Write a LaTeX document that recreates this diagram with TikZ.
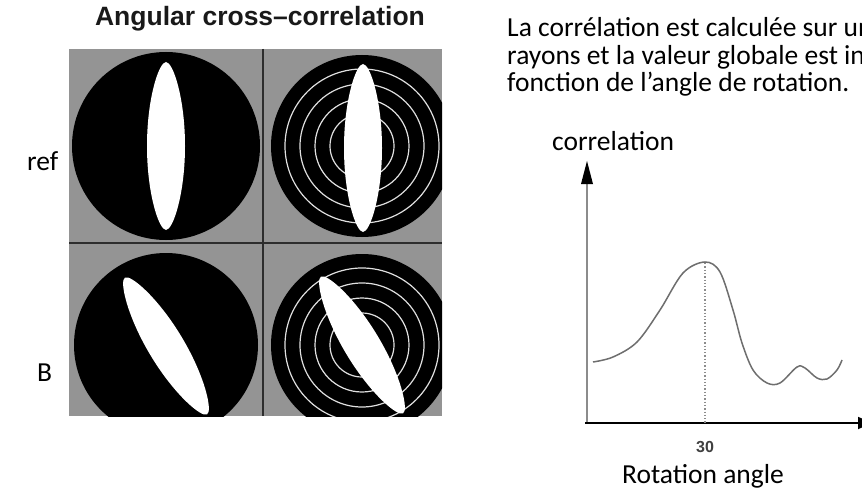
\documentclass[tikz,border=0pt]{standalone}
\usepackage{fontspec}
\setmainfont{Carlito}
\newfontfamily\titlefont{Liberation Sans}
\usetikzlibrary{arrows.meta}
\definecolor{panelgray}{RGB}{148,148,148}
\definecolor{divline}{RGB}{45,45,45}
\definecolor{axisgray}{RGB}{140,140,140}
\definecolor{curvegray}{RGB}{110,110,110}
\definecolor{titlecol}{RGB}{25,25,25}
\tikzset{
  lens/.pic={\fill[white] (0,-84) .. controls (7,-84) and (19,-48) .. (19,0) .. controls (19,48) and (7,84) .. (0,84) .. controls (-7,84) and (-19,48) .. (-19,0) .. controls (-19,-48) and (-7,-84) .. (0,-84) -- cycle;},
  disc/.style={fill=black},
  ringline/.style={draw=white!88!black, line width=1.2pt},
  divider/.style={draw=divline, line width=1.8pt},
  bodytext/.style={font=\fontsize{27.5}{29}\selectfont, inner sep=0pt, text=black},
}
\begin{document}
\begin{tikzpicture}[x=1pt,y=-1pt]
\useasboundingbox (0,0) rectangle (862,492);
\fill[white] (0,0) rectangle (862,492);
% title
\node[font=\titlefont\bfseries\fontsize{26.5}{28}\selectfont, text=titlecol, inner sep=0pt] (title) at (260,19) {Angular cross\textendash correlation};
% panel
\fill[panelgray] (69,49) rectangle (442,416);
\begin{scope}
\clip (69,49) rectangle (442,416);
\fill[disc] (166,146) circle (94);
\fill[disc] (362,146) circle (91);
\fill[disc] (166,345) circle (92);
\fill[disc] (362,345) circle (91);
\foreach \r in {77,62,47,32} {
  \draw[ringline] (362,146) circle (\r);
  \draw[ringline] (362,345) circle (\r);
}
\pic at (166,146) {lens};
\pic at (363,148) {lens};
\pic[rotate=31,scale=0.95] at (166,346) {lens};
\pic[rotate=31,scale=0.95] at (362,345) {lens};
\end{scope}
\draw[divider] (69,243) -- (442,243);
\draw[divider] (263,49) -- (263,416);
% side labels
\node[bodytext, anchor=base west] (ref) at (27,170) {ref};
\node[bodytext, anchor=base west] (b) at (37,381) {B};
% paragraph (cut at the right edge)
\begin{scope}
\clip (0,0) rectangle (862,492);
\node[bodytext, anchor=base west] (l1) at (507,37) {La corrélation est calculée sur un};
\node[bodytext, anchor=base west] (l2) at (507,65) {rayons et la valeur globale est in};
\node[bodytext, anchor=base west] (l3) at (507,92) {fonction de l’angle de rotation.};
% graph
\coordinate (origin) at (587,423);
\coordinate (ytop) at (587,161);
\coordinate (xend) at (872,423);
\coordinate (peak) at (705,263);
\coordinate (peakfoot) at (705,423);
\draw[axisgray, line width=1.8pt] (origin) -- (587,180);
\fill[black] (ytop) -- (593,184) -- (581,184) -- cycle;
\draw[black, line width=1.8pt, -{Triangle[length=14pt,width=12pt]}] (585,423) -- (xend);
\draw[axisgray, line width=1.3pt, dotted] (peak) -- (peakfoot);
\draw[curvegray, line width=1.5pt] plot[smooth, tension=0.55] coordinates {
 (593,362) (613,357) (637,342) (660,310) (683,273) (705,262) (720,272) (733,310) (742,343) (753,370) (767,383) (780,383) (797,367) (805,368) (817,378) (827,379) (837,370) (842,360)};
\end{scope}
\node[font=\titlefont\bfseries\fontsize{16}{18}\selectfont, text=black!75, inner sep=0pt] (thirty) at (705,447) {30};
\node[bodytext, anchor=base] (xlabel) at (703,483) {Rotation angle};
\node[bodytext, anchor=base west] (ylabel) at (552,150) {correlation};
\end{tikzpicture}
\end{document}
